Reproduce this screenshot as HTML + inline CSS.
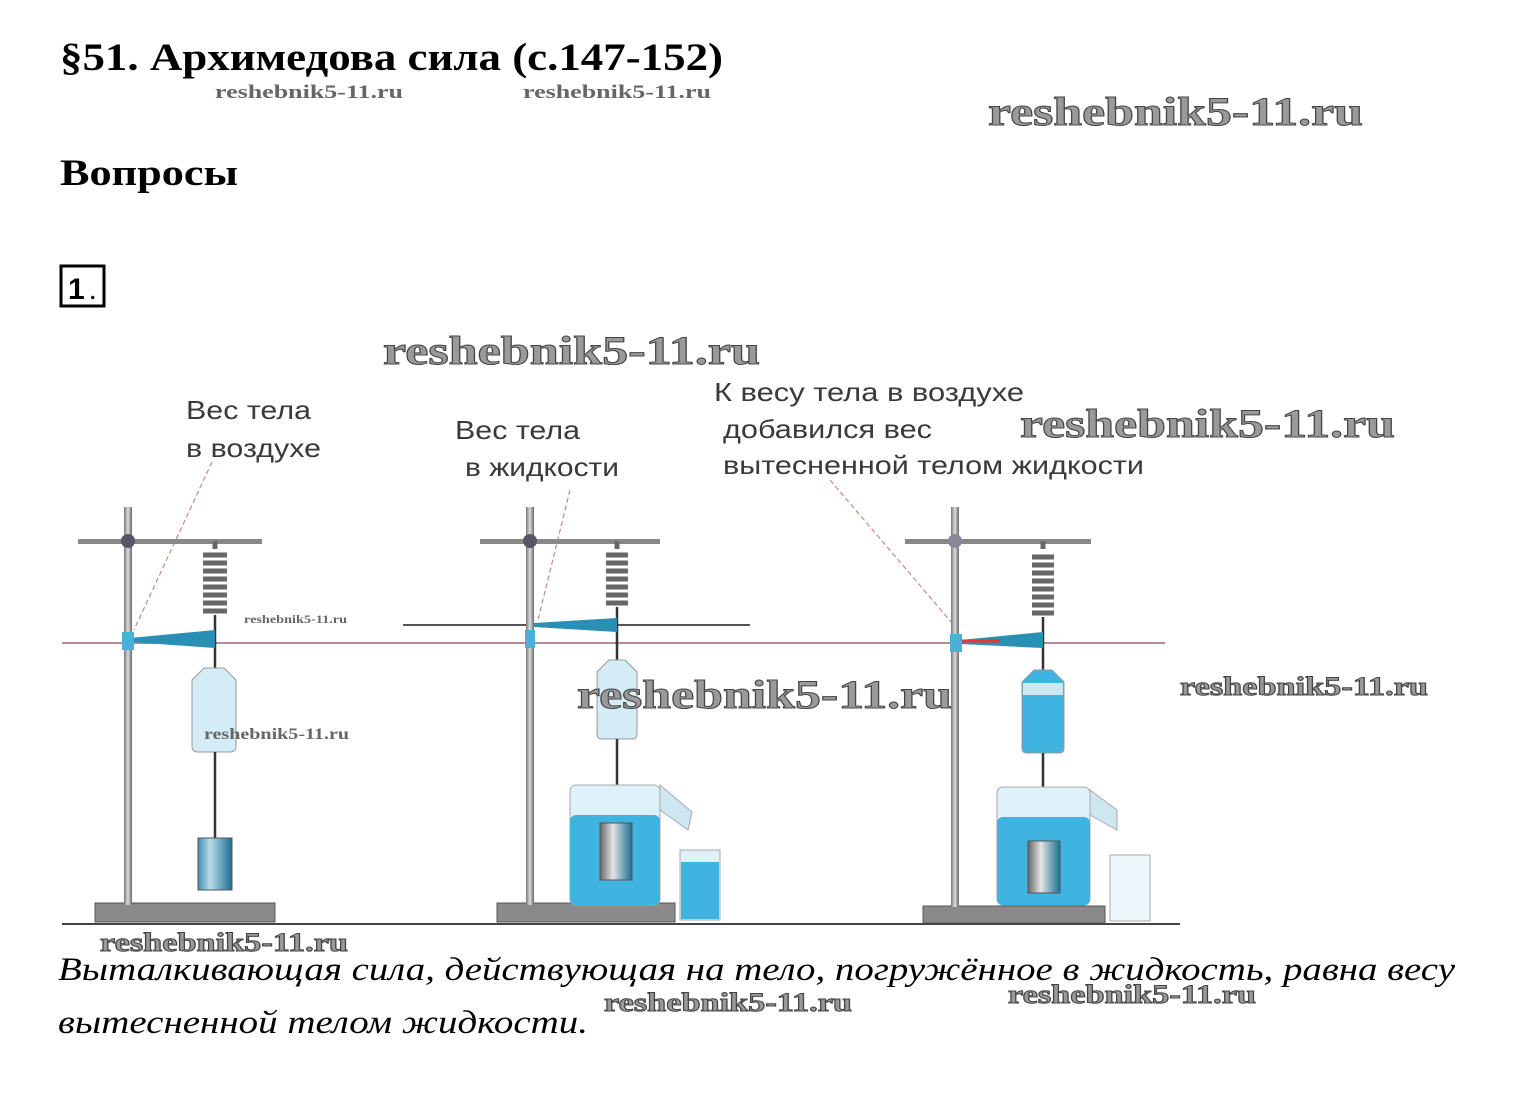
<!DOCTYPE html>
<html><head><meta charset="utf-8"><style>
body{margin:0;background:#fff;}
svg{display:block;}
.wm{font-family:"Liberation Serif",serif;font-weight:bold;fill:#9a9a9a;stroke:#444;stroke-width:1;}
.wms{font-family:"Liberation Serif",serif;font-weight:bold;fill:#666;}
.lbl{font-family:"Liberation Sans","DejaVu Sans",sans-serif;font-size:26px;fill:#3a3a3a;}
</style></head><body>
<svg width="1532" height="1107" viewBox="0 0 1532 1107" xmlns="http://www.w3.org/2000/svg">
<defs>
<linearGradient id="rod" x1="0" x2="1"><stop offset="0" stop-color="#777"/><stop offset=".5" stop-color="#ddd"/><stop offset="1" stop-color="#666"/></linearGradient>
<linearGradient id="wt" x1="0" x2="1"><stop offset="0" stop-color="#3a8fb0"/><stop offset=".35" stop-color="#b9dbe8"/><stop offset="1" stop-color="#1c6f92"/></linearGradient>
<linearGradient id="wtg" x1="0" x2="1"><stop offset="0" stop-color="#666"/><stop offset=".4" stop-color="#e4e4e4"/><stop offset="1" stop-color="#1c6f92"/></linearGradient>
</defs>
<rect width="1532" height="1107" fill="#fff"/>
<text x="60" y="70" font-family="Liberation Serif,serif" font-weight="bold" font-size="39" textLength="663" lengthAdjust="spacingAndGlyphs">§51. Архимедова сила (с.147-152)</text>
<text x="215" y="98" class="wms" font-size="19" textLength="188" lengthAdjust="spacingAndGlyphs">reshebnik5-11.ru</text>
<text x="523" y="98" class="wms" font-size="19" textLength="188" lengthAdjust="spacingAndGlyphs">reshebnik5-11.ru</text>
<text x="988" y="125" class="wm" font-size="40" textLength="375" lengthAdjust="spacingAndGlyphs">reshebnik5-11.ru</text>
<text x="60" y="185" font-family="Liberation Serif,serif" font-weight="bold" font-size="37" textLength="178" lengthAdjust="spacingAndGlyphs">Вопросы</text>
<rect x="61" y="266" width="43" height="40" fill="none" stroke="#000" stroke-width="3"/>
<text x="68" y="299" font-family="Liberation Sans,sans-serif" font-weight="bold" font-size="30">1</text>
<text x="89" y="299" font-family="Liberation Serif,serif" font-size="30">.</text>
<text x="383" y="364" class="wm" font-size="40" textLength="377" lengthAdjust="spacingAndGlyphs">reshebnik5-11.ru</text>

<text x="186" y="419" class="lbl" textLength="125" lengthAdjust="spacingAndGlyphs">Вес тела</text>
<text x="186" y="457" class="lbl" textLength="135" lengthAdjust="spacingAndGlyphs">в воздухе</text>
<text x="455" y="439" class="lbl" textLength="125" lengthAdjust="spacingAndGlyphs">Вес тела</text>
<text x="465" y="476" class="lbl" textLength="154" lengthAdjust="spacingAndGlyphs">в жидкости</text>
<text x="714" y="401" class="lbl" textLength="310" lengthAdjust="spacingAndGlyphs">К весу тела в воздухе</text>
<text x="723" y="438" class="lbl" textLength="209" lengthAdjust="spacingAndGlyphs">добавился вес</text>
<text x="723" y="474" class="lbl" textLength="421" lengthAdjust="spacingAndGlyphs">вытесненной телом жидкости</text>
<text x="1020" y="437" class="wm" font-size="40" textLength="375" lengthAdjust="spacingAndGlyphs">reshebnik5-11.ru</text>

<g stroke="#c88" stroke-width="1.2" stroke-dasharray="5,3" fill="none">
<line x1="212" y1="462" x2="134" y2="630"/>
<line x1="570" y1="490" x2="538" y2="620"/>
<line x1="830" y1="480" x2="958" y2="630"/>
</g>

<line x1="62" y1="643" x2="1165" y2="643" stroke="#b58a95" stroke-width="2"/>
<line x1="403" y1="625" x2="750" y2="625" stroke="#555" stroke-width="2"/>
<line x1="62" y1="924" x2="1180" y2="924" stroke="#444" stroke-width="2"/>

<g>
<rect x="95" y="903" width="180" height="19" fill="#8a8a8a" stroke="#555"/>
<rect x="124" y="507" width="8" height="398" fill="url(#rod)"/>
<rect x="78" y="539" width="184" height="5" fill="#888"/>
<circle cx="128" cy="541" r="7" fill="#556"/>
<path d="M215 541 v8 M203 555 h24 M203 563 h24 M203 571 h24 M203 579 h24 M203 587 h24 M203 595 h24 M203 603 h24 M203 611 h24" stroke="#666" stroke-width="5"/>
<path d="M215 615 v53" stroke="#333" stroke-width="2.5" fill="none"/>
<polygon points="130,638 215,630 215,648 130,642" fill="#2a8fb5"/>
<rect x="122" y="632" width="12" height="18" fill="#4ab0d8"/>
<path d="M192 680 l12 -12 h20 l12 12 v66 q0 6 -6 6 h-32 q-6 0 -6 -6 z" fill="#d4ecf6" stroke="#999"/>
<path d="M215 752 v86" stroke="#333" stroke-width="2.5"/>
<rect x="198" y="838" width="34" height="52" fill="url(#wt)" stroke="#555"/>
</g>

<g>
<rect x="497" y="903" width="178" height="19" fill="#8a8a8a" stroke="#555"/>
<rect x="526" y="507" width="8" height="398" fill="url(#rod)"/>
<rect x="480" y="539" width="180" height="5" fill="#888"/>
<circle cx="530" cy="541" r="7" fill="#556"/>
<path d="M617 541 v8 M606 555 h22 M606 563 h22 M606 571 h22 M606 579 h22 M606 587 h22 M606 595 h22 M606 603 h22" stroke="#666" stroke-width="5"/>
<path d="M617 607 v53" stroke="#333" stroke-width="2.5"/>
<polygon points="534,623 617,618 617,632 534,627" fill="#2a8fb5"/>
<rect x="525" y="630" width="10" height="18" fill="#4ab0d8"/>
<path d="M597 672 l12 -12 h16 l12 12 v62 q0 5 -5 5 h-30 q-5 0 -5 -5 z" fill="#d4ecf6" stroke="#999"/>
<path d="M617 739 v84" stroke="#333" stroke-width="2.5"/>
<rect x="570" y="785" width="90" height="120" rx="6" fill="#dff1f8" stroke="#aaa"/>
<rect x="570" y="815" width="90" height="90" rx="6" fill="#3fb4e0"/>
<polygon points="660,785 692,812 688,830 660,810" fill="#cde6f0" stroke="#aaa"/>
<rect x="600" y="823" width="32" height="57" fill="url(#wtg)" stroke="#555"/>
<rect x="680" y="850" width="40" height="70" fill="#dff1f8" stroke="#aaa"/>
<rect x="681" y="862" width="38" height="57" fill="#3fb4e0"/>
</g>

<g>
<rect x="923" y="906" width="182" height="17" fill="#8a8a8a" stroke="#555"/>
<rect x="951" y="507" width="8" height="400" fill="url(#rod)"/>
<rect x="905" y="539" width="186" height="5" fill="#888"/>
<circle cx="955" cy="541" r="7" fill="#889"/>
<path d="M1043 541 v8 M1032 557 h22 M1032 565 h22 M1032 573 h22 M1032 581 h22 M1032 589 h22 M1032 597 h22 M1032 605 h22 M1032 613 h22" stroke="#666" stroke-width="5"/>
<path d="M1043 617 v53" stroke="#333" stroke-width="2.5"/>
<polygon points="960,640 1043,632 1043,648 960,644" fill="#2a8fb5"/>
<line x1="960" y1="641" x2="1000" y2="641" stroke="#e33" stroke-width="3"/>
<rect x="950" y="634" width="12" height="18" fill="#4ab0d8"/>
<path d="M1022 682 l12 -12 h18 l12 12 v66 q0 5 -5 5 h-32 q-5 0 -5 -5 z" fill="#3fb4e0" stroke="#999"/>
<rect x="1023" y="683" width="40" height="12" fill="#cde6f0"/>
<path d="M1043 753 v88" stroke="#333" stroke-width="2.5"/>
<rect x="997" y="787" width="93" height="118" rx="6" fill="#dff1f8" stroke="#aaa"/>
<rect x="997" y="817" width="93" height="88" rx="6" fill="#3fb4e0"/>
<polygon points="1090,790 1117,810 1117,830 1090,815" fill="#cde6f0" stroke="#aaa"/>
<rect x="1028" y="841" width="32" height="52" fill="url(#wtg)" stroke="#555"/>
<rect x="1110" y="855" width="40" height="66" fill="#eef7fb" stroke="#aaa"/>
</g>

<text x="244" y="623" class="wms" font-size="12" textLength="103" lengthAdjust="spacingAndGlyphs">reshebnik5-11.ru</text>
<text x="204" y="739" class="wms" font-size="16" textLength="145" lengthAdjust="spacingAndGlyphs">reshebnik5-11.ru</text>
<text x="577" y="708" class="wm" font-size="40" textLength="375" lengthAdjust="spacingAndGlyphs">reshebnik5-11.ru</text>
<text x="1180" y="695" class="wm" font-size="26" textLength="248" lengthAdjust="spacingAndGlyphs">reshebnik5-11.ru</text>
<text x="100" y="951" class="wm" font-size="26" textLength="248" lengthAdjust="spacingAndGlyphs">reshebnik5-11.ru</text>
<text x="604" y="1011" class="wm" font-size="26" textLength="248" lengthAdjust="spacingAndGlyphs">reshebnik5-11.ru</text>
<text x="1008" y="1003" class="wm" font-size="26" textLength="248" lengthAdjust="spacingAndGlyphs">reshebnik5-11.ru</text>

<text x="58" y="980" font-family="Liberation Serif,serif" font-style="italic" font-size="33" textLength="1397" lengthAdjust="spacingAndGlyphs">Выталкивающая сила, действующая на тело, погружённое в жидкость, равна весу</text>
<text x="58" y="1033" font-family="Liberation Serif,serif" font-style="italic" font-size="33" textLength="530" lengthAdjust="spacingAndGlyphs">вытесненной телом жидкости.</text>
</svg>
</body></html>
